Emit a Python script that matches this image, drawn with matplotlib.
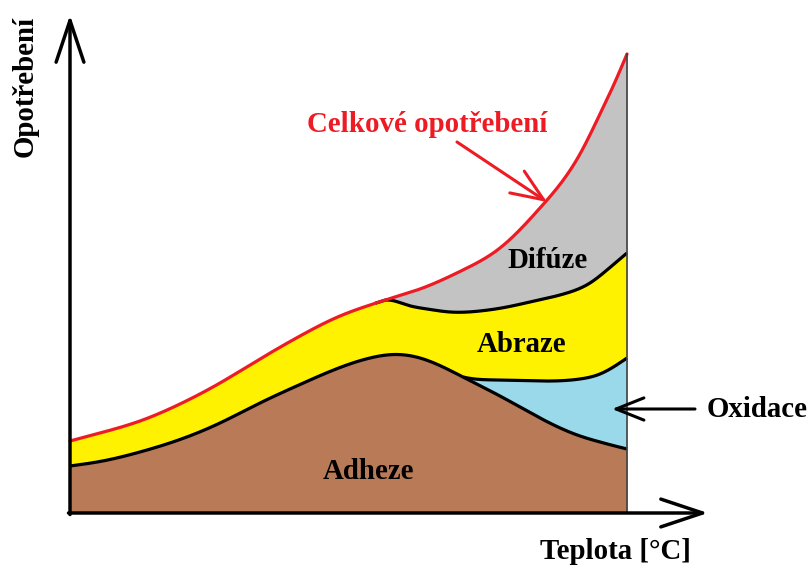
import numpy as np
import matplotlib
matplotlib.use("Agg")
import matplotlib.pyplot as plt

# ---------------- data (schematic, arbitrary units) ----------------
teplota = [0, 30, 70, 110, 150, 190, 230, 270, 300, 325, 350, 393, 430, 470, 510, 530, 545, 557]
adheze_top = [47, 51.5, 61, 73.5, 90, 110, 128.5, 145.5, 155, 158.5, 155, 136, 117, 95, 77, 71, 67, 64]
celkove = [72, 80, 92, 109, 130, 154, 177, 197, 208, 216, 224, 243, 265, 305, 359, 399, 431, 459]

oxid_x = [350, 393, 430, 470, 510, 530, 545, 557]
oxidace_top = [155, 136, 133, 132, 134, 139, 147, 155]

abr_x = [270, 300, 317, 337, 357, 380, 410, 437, 460, 497, 520, 537, 557]
abraze_top = [197, 208, 213, 208, 204, 201, 202, 206, 211, 220, 230, 243, 260]

labels = {"adheze": "Adheze", "oxidace": "Oxidace", "abraze": "Abraze",
          "difuze": "Difúze", "celkove": "Celkové opotřebení",
          "xlabel": "Teplota [°C]", "ylabel": "Opotřebení"}

# ---------------- smooth line through the read points (natural cubic spline) -----
def smooth(xs, ys, xd):
    x = np.asarray(xs, float); y = np.asarray(ys, float)
    n = len(x)
    h = np.diff(x)
    A = np.zeros((n, n)); b = np.zeros(n)
    A[0, 0] = A[-1, -1] = 1
    for i in range(1, n - 1):
        A[i, i - 1] = h[i - 1]
        A[i, i] = 2 * (h[i - 1] + h[i])
        A[i, i + 1] = h[i]
        b[i] = 6 * ((y[i + 1] - y[i]) / h[i] - (y[i] - y[i - 1]) / h[i - 1])
    M = np.linalg.solve(A, b)
    i = np.clip(np.searchsorted(x, xd, side="right") - 1, 0, n - 2)
    hi = h[i]
    a = x[i + 1] - xd
    c = xd - x[i]
    return (M[i] * a**3 / (6 * hi) + M[i + 1] * c**3 / (6 * hi)
            + (y[i] / hi - M[i] * hi / 6) * a + (y[i + 1] / hi - M[i + 1] * hi / 6) * c)

xd = np.linspace(teplota[0], teplota[-1], 800)
adh = smooth(teplota, adheze_top, xd)
tot = smooth(teplota, celkove, xd)

ox = adh.copy()
mo = xd >= oxid_x[1]
ox[mo] = np.maximum(smooth(oxid_x, oxidace_top, xd[mo]), adh[mo])

ab = tot.copy()
ma = xd >= abr_x[1]
ab[ma] = np.minimum(smooth(abr_x, abraze_top, xd[ma]), tot[ma])

# ---------------- figure ----------------
fig = plt.figure(figsize=(8.11, 5.66), dpi=100)
ax = fig.add_axes([0, 0, 1, 1])
ax.set_xlim(-70, 741)
ax.set_ylim(-53, 513)
ax.axis("off")

BROWN, BLUE, YELLOW, GREY, RED = "#B97A57", "#99D9EA", "#FFF200", "#C3C3C3", "#ED1C24"

ax.fill_between(xd, 0, adh, color=BROWN, lw=0)
ax.fill_between(xd, adh, ox, color=BLUE, lw=0)
ax.fill_between(xd, ox, ab, color=YELLOW, lw=0)
ax.fill_between(xd, ab, tot, color=GREY, lw=0)

ax.plot(xd, adh, color="black", lw=2.3, solid_capstyle="butt")
ax.plot(xd[mo], ox[mo], color="black", lw=2.3, solid_capstyle="butt")
mline = xd >= 305
ax.plot(xd[mline], ab[mline], color="black", lw=2.3, solid_capstyle="butt")
ax.plot(xd, tot, color=RED, lw=2.3, solid_capstyle="round")
ax.plot([teplota[-1], teplota[-1]], [0, celkove[-1]], color="#404040", lw=1.2)

# axes with open arrow heads
ax.annotate("", xy=(0, 498), xytext=(0, -1.5),
            arrowprops=dict(arrowstyle="->,head_length=1.5,head_width=0.5",
                            lw=2.5, color="black", shrinkA=0, shrinkB=0, mutation_scale=20))
ax.annotate("", xy=(638, 0), xytext=(-1.5, 0),
            arrowprops=dict(arrowstyle="->,head_length=1.5,head_width=0.5",
                            lw=2.5, color="black", shrinkA=0, shrinkB=0, mutation_scale=20))

# pointer arrows
ax.annotate("", xy=(477, 311), xytext=(387, 371),
            arrowprops=dict(arrowstyle="->,head_length=1.15,head_width=0.47",
                            lw=2.2, color=RED, shrinkA=0, shrinkB=0, mutation_scale=20))
ax.annotate("", xy=(542, 104), xytext=(625, 104),
            arrowprops=dict(arrowstyle="->,head_length=1.0,head_width=0.4",
                            lw=2.2, color="black", shrinkA=0, shrinkB=0, mutation_scale=20))

fp = dict(family=["Liberation Serif", "DejaVu Serif"], weight="bold", fontsize=20.8)
ax.text(237, 381, labels["celkove"], color=RED, ha="left", va="baseline", **fp)
ax.text(437, 245, labels["difuze"], color="black", ha="left", va="baseline", **fp)
ax.text(407, 161, labels["abraze"], color="black", ha="left", va="baseline", **fp)
ax.text(253, 34, labels["adheze"], color="black", ha="left", va="baseline", **fp)
ax.text(637, 96, labels["oxidace"], color="black", ha="left", va="baseline", **fp)
ax.text(470, -46, labels["xlabel"], color="black", ha="left", va="baseline", **fp)
ax.text(-45, 427, labels["ylabel"], color="black", ha="center", va="center", rotation=90, **fp)

fig.savefig("out.png", dpi=100)
